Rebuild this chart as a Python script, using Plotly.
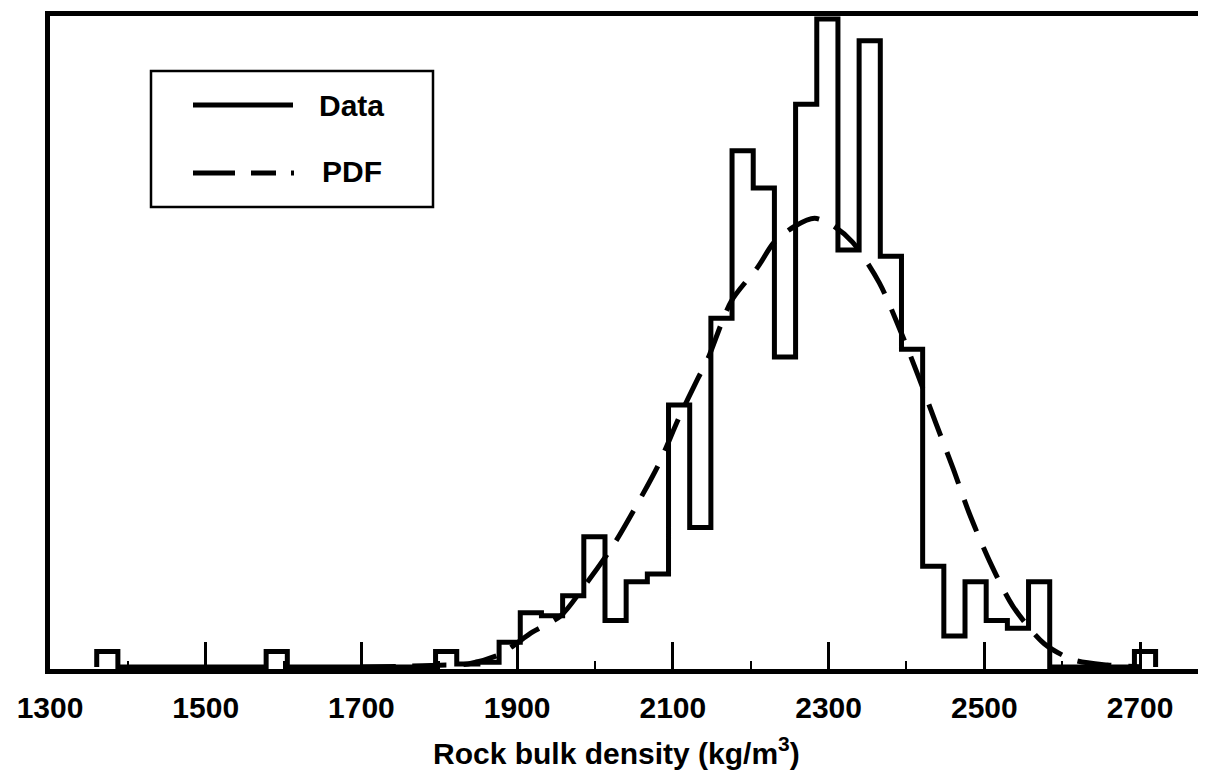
import plotly.graph_objects as go

# ---------------- data ----------------
bin_start = 1360.0
bin_width = 27.2
counts = [1, 0, 0, 0, 0, 0, 0, 0, 1, 0,
          0, 0, 0, 0, 0, 0, 1, 0.2, 0.3, 1.6,
          3.5, 3.3, 4.6, 8.4, 3.0, 5.5, 6.0, 16.9, 9.0, 22.5,
          33.3, 30.9, 20.0, 36.3, 41.8, 26.9, 40.4, 26.5, 20.5, 6.5,
          2.0, 5.5, 3.0, 2.5, 5.5, 0, 0, 0, 0, 1]

pdf_x = [1700, 1760, 1800, 1837, 1877, 1920, 1956, 1986, 2024, 2053,
         2081, 2108, 2132, 2145, 2175, 2209, 2230, 2257, 2282, 2305,
         2331, 2365, 2393, 2415, 2438, 2460, 2480, 2507, 2537, 2577,
         2615, 2658, 2700]
pdf_y = [0.0, 0.05, 0.12, 0.19, 0.8, 2.26, 3.3, 5.2, 7.9, 10.4,
         13.0, 16.1, 18.6, 19.9, 23.6, 25.8, 27.4, 28.45, 28.95, 28.5,
         27.4, 24.8, 21.6, 18.8, 15.7, 12.8, 10.0, 6.8, 3.9, 1.5,
         0.45, 0.13, 0.02]

tick_vals = [1300, 1500, 1700, 1900, 2100, 2300, 2500, 2700]
tick_text = ["1300", "1500", "1700", "1900", "2100", "2300", "2500", "2700"]

x_title = "Rock bulk density (kg/m<sup>3</sup>)"
legend_names = ["Data", "PDF"]

# ---------------- histogram outline ----------------
edges = [bin_start + i * bin_width for i in range(len(counts) + 1)]
hist_x = [edges[0]] + edges
hist_y = [0] + counts + [0]

W, H = 1206, 784
L, R, T, B = 42, 0, 8, 123
plot_w = W - L - R
plot_h = H - T - B

def px(x):
    return (x - L) / plot_w

def py(y):
    return (H - B - y) / plot_h

FONT = "Liberation Sans, Arial, Helvetica, sans-serif"
BOLD = dict(family=FONT, size=30, color="black", weight="bold")

fig = go.Figure()
fig.add_trace(go.Scatter(
    x=hist_x, y=hist_y, mode="lines", name=legend_names[0],
    line=dict(color="black", width=5, shape="hv"),
    showlegend=False,
))
fig.add_trace(go.Scatter(
    x=pdf_x, y=pdf_y, mode="lines", name=legend_names[1],
    line=dict(color="black", width=5, dash="34px,17px", shape="spline", smoothing=0.8),
    showlegend=False,
))

y_unit_px = 15.5
y_min = -2.0 / y_unit_px
y_max = y_min + plot_h / y_unit_px

fig.update_layout(
    width=W, height=H,
    margin=dict(l=L, r=R, t=T, b=B, pad=0),
    paper_bgcolor="white", plot_bgcolor="white",
    font=BOLD,
    xaxis=dict(
        range=[1300, 1300 + plot_w / 0.7786],
        tickmode="array", tickvals=tick_vals, ticktext=tick_text,
        ticks="inside", ticklen=27, tickwidth=2.5, tickcolor="black",
        tickfont=BOLD,
        ticklabelstandoff=8,
        minor=dict(tick0=1300, dtick=100, ticks="inside", ticklen=8, tickwidth=2, tickcolor="black"),
        showline=True, linecolor="black", linewidth=5, mirror=True,
        showgrid=False, zeroline=False,
    ),
    yaxis=dict(
        range=[y_min, y_max],
        showticklabels=False, ticks="",
        showline=True, linecolor="black", linewidth=5, mirror=False,
        showgrid=False, zeroline=False,
    ),
    shapes=[
        dict(type="rect", xref="paper", yref="paper",
             x0=px(143), x1=px(425), y0=py(199), y1=py(63),
             line=dict(color="black", width=2.5), fillcolor="white", layer="above"),
        dict(type="line", xref="paper", yref="paper",
             x0=px(185), x1=px(285), y0=py(97), y1=py(97),
             line=dict(color="black", width=5)),
        dict(type="line", xref="paper", yref="paper",
             x0=px(185), x1=px(287), y0=py(165), y1=py(165),
             line=dict(color="black", width=5, dash="42px,16px,25px,15px,3px,60px")),
    ],
    annotations=[
        dict(text=legend_names[0], xref="paper", yref="paper", x=px(309), y=py(97),
             xanchor="left", yanchor="middle", showarrow=False, font=BOLD),
        dict(text=legend_names[1], xref="paper", yref="paper", x=px(312), y=py(164),
             xanchor="left", yanchor="middle", showarrow=False, font=BOLD),
        dict(text=x_title, xref="paper", yref="paper", x=px(608), y=py(722),
             xanchor="center", yanchor="top", showarrow=False, font=BOLD),
    ],
)

fig.write_html("out.html")
